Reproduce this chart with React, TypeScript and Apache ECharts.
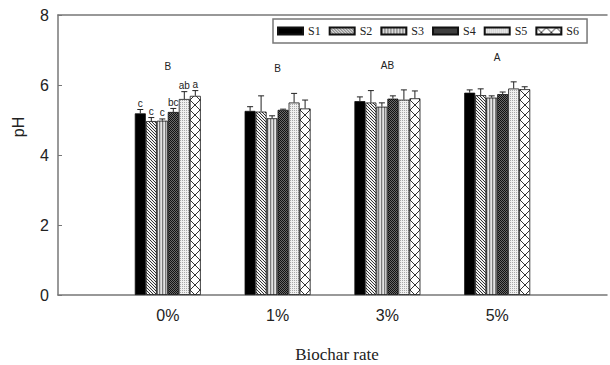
import React, { useEffect, useRef } from 'react';
import * as echarts from 'echarts';

const categories = ['0%', '1%', '3%', '5%'];
const seriesNames = ['S1', 'S2', 'S3', 'S4', 'S5', 'S6'];

const s1Values = [5.19, 5.26, 5.54, 5.78];
const s2Values = [4.97, 5.24, 5.5, 5.71];
const s3Values = [4.98, 5.05, 5.38, 5.64];
const s4Values = [5.23, 5.29, 5.61, 5.74];
const s5Values = [5.6, 5.5, 5.58, 5.9];
const s6Values = [5.69, 5.33, 5.62, 5.88];

const s1Errors = [0.11, 0.12, 0.12, 0.08];
const s2Errors = [0.1, 0.45, 0.34, 0.18];
const s3Errors = [0.05, 0.07, 0.11, 0.05];
const s4Errors = [0.1, 0.02, 0.08, 0.06];
const s5Errors = [0.21, 0.26, 0.28, 0.19];
const s6Errors = [0.15, 0.24, 0.21, 0.07];

// significance letters above the 0% bars (S1..S6)
const zeroLetters = ['c', 'c', 'c', 'bc', 'ab', 'a'];
// group letters above each biochar rate
const groupLetters = ['B', 'B', 'AB', 'A'];

const yTicks = { min: 0, max: 8, interval: 2 };

const allValues = [s1Values, s2Values, s3Values, s4Values, s5Values, s6Values];
const allErrors = [s1Errors, s2Errors, s3Errors, s4Errors, s5Errors, s6Errors];

const SANS = 'Arial, "Liberation Sans", sans-serif';
const SERIF = '"Times New Roman", "Liberation Serif", serif';
const BAR_W = 11;

function makeTile(kind: string): HTMLCanvasElement {
  const c = document.createElement('canvas');
  const ctx = c.getContext('2d')!;
  const px = (x: number, y: number, col: string) => {
    ctx.fillStyle = col;
    ctx.fillRect(x, y, 1, 1);
  };
  if (kind === 'diag') {
    c.width = 3; c.height = 3;
    ctx.fillStyle = '#f2f2f2'; ctx.fillRect(0, 0, 3, 3);
    for (let i = 0; i < 3; i++) px(i, i, '#333');
  } else if (kind === 'vert') {
    c.width = 3; c.height = 1;
    px(0, 0, '#7a7a7a'); px(1, 0, '#c8c8c8'); px(2, 0, '#e4e4e4');
  } else if (kind === 'dark') {
    c.width = 2; c.height = 2;
    px(0, 0, '#111'); px(1, 1, '#111'); px(1, 0, '#6a6a6a'); px(0, 1, '#6a6a6a');
  } else if (kind === 'light') {
    c.width = 2; c.height = 2;
    ctx.fillStyle = '#f0f0f0'; ctx.fillRect(0, 0, 2, 2);
    px(0, 0, '#a8a8a8');
  } else {
    c.width = 10; c.height = 10;
    ctx.fillStyle = '#fff'; ctx.fillRect(0, 0, 10, 10);
    for (let i = 0; i < 10; i++) { px(i, i, '#333'); px(9 - i, i, '#333'); }
  }
  return c;
}

export default function App() {
  const ref = useRef<HTMLDivElement>(null);

  useEffect(() => {
    if (!ref.current) return;
    const chart = echarts.init(ref.current, null, { renderer: 'svg' });

    const fills: any[] = [
      '#000',
      { image: makeTile('diag'), repeat: 'repeat' },
      { image: makeTile('vert'), repeat: 'repeat' },
      { image: makeTile('dark'), repeat: 'repeat' },
      { image: makeTile('light'), repeat: 'repeat' },
      { image: makeTile('cross'), repeat: 'repeat' },
    ];

    const axisData = ['', ...categories, ''];

    const barSeries = seriesNames.map((name, s) => ({
      name,
      type: 'bar',
      barWidth: BAR_W,
      barGap: '0%',
      data: [null, ...allValues[s], null],
      itemStyle: { color: fills[s], borderColor: '#111', borderWidth: 0.8 },
      z: 2,
    }));

    const errData: number[][] = [];
    const errLetters: string[] = [];
    categories.forEach((_, c) => {
      seriesNames.forEach((__, s) => {
        errData.push([c + 1, s, allValues[s][c], allErrors[s][c]]);
        errLetters.push(c === 0 ? zeroLetters[s] : '');
      });
    });

    const groupData = categories.map((_, c) => {
      let top = 0;
      for (let s = 0; s < seriesNames.length; s++) top = Math.max(top, allValues[s][c] + allErrors[s][c]);
      return [c + 1, top + 0.7];
    });

    chart.setOption({
      animation: false,
      grid: { left: 58, top: 15, right: -4, bottom: 70 },
      legend: {
        data: seriesNames,
        left: 273,
        top: 19,
        icon: 'rect',
        itemWidth: 25,
        itemHeight: 7,
        itemGap: 8,
        padding: [6, 8, 6, 4],
        borderColor: '#777',
        borderWidth: 1.5,
        textStyle: { fontFamily: SERIF, fontSize: 12, color: '#222' },
      },
      xAxis: [
        {
          type: 'category',
          data: axisData,
          boundaryGap: false,
          axisLine: { lineStyle: { color: '#777', width: 1.5 } },
          axisTick: { show: false },
          axisLabel: { fontFamily: SANS, fontSize: 16, color: '#222', margin: 12, interval: 0 },
          splitLine: { show: false },
        },
        {
          type: 'category',
          data: axisData,
          boundaryGap: false,
          position: 'top',
          axisLine: { lineStyle: { color: '#777', width: 1.5 } },
          axisTick: { show: false },
          axisLabel: { show: false },
        },
      ],
      yAxis: {
        type: 'value',
        min: yTicks.min,
        max: yTicks.max,
        interval: yTicks.interval,
        axisLine: { show: true, lineStyle: { color: '#777', width: 1.5 } },
        axisTick: { show: true, inside: true, length: 4, lineStyle: { color: '#777' } },
        axisLabel: { fontFamily: SANS, fontSize: 16, color: '#222', margin: 9 },
        splitLine: { show: false },
      },
      graphic: [
        {
          type: 'text',
          x: 18,
          y: 127,
          rotation: Math.PI / 2,
          style: { text: 'pH', fontFamily: SANS, fontSize: 16, fill: '#222', align: 'center', verticalAlign: 'middle' },
        },
        {
          type: 'text',
          x: 337,
          y: 354,
          style: { text: 'Biochar rate', fontFamily: SERIF, fontSize: 17, fill: '#222', align: 'center', verticalAlign: 'middle' },
        },
      ],
      series: [
        ...barSeries,
        {
          type: 'custom',
          z: 5,
          clip: false,
          data: errData,
          encode: { x: 0, y: 2 },
          renderItem: (params: any, api: any) => {
            const cat = api.value(0);
            const s = api.value(1);
            const v = api.value(2);
            const e = api.value(3);
            const base = api.coord([cat, v]);
            const top = api.coord([cat, v + e]);
            const x = base[0] + (s - 2.5) * BAR_W;
            const children: any[] = [
              { type: 'line', shape: { x1: x, y1: base[1], x2: x, y2: top[1] }, style: { stroke: '#222', lineWidth: 1 } },
              { type: 'line', shape: { x1: x - 3, y1: top[1], x2: x + 3, y2: top[1] }, style: { stroke: '#222', lineWidth: 1 } },
            ];
            const letter = errLetters[params.dataIndex];
            if (letter) {
              children.push({
                type: 'text',
                x,
                y: top[1] - 1,
                style: { text: letter, fontFamily: SANS, fontSize: 10, fill: '#222', align: 'center', verticalAlign: 'bottom' },
              });
            }
            return { type: 'group', children };
          },
        },
        {
          type: 'custom',
          z: 5,
          clip: false,
          data: groupData,
          encode: { x: 0, y: 1 },
          renderItem: (params: any, api: any) => {
            const p = api.coord([api.value(0), api.value(1)]);
            return {
              type: 'text',
              x: p[0],
              y: p[1],
              style: { text: groupLetters[params.dataIndex], fontFamily: SANS, fontSize: 10, fill: '#222', align: 'center', verticalAlign: 'middle' },
            };
          },
        },
      ],
    });

    return () => chart.dispose();
  }, []);

  return <div ref={ref} style={{ position: 'fixed', left: 0, top: 0, width: 610, height: 365, background: '#fff' }} />;
}
